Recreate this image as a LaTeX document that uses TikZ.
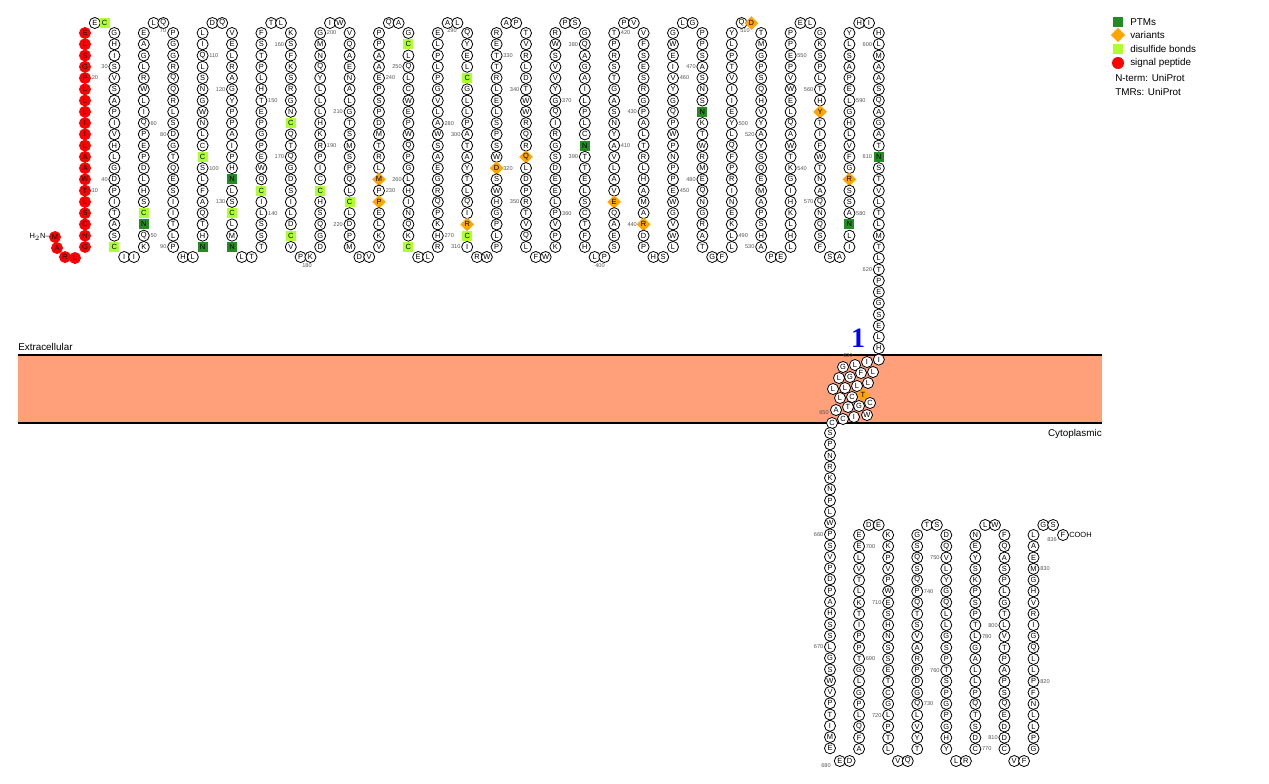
\documentclass[tikz,border=0pt]{standalone}
\usepackage{fontspec}
\setmainfont{Liberation Sans}
\usetikzlibrary{shapes.geometric}
\definecolor{ptm}{HTML}{228B22}
\definecolor{dsb}{HTML}{ADFF2F}
\definecolor{var}{HTML}{FFA500}
\definecolor{mem}{HTML}{FFA07A}
\definecolor{numg}{HTML}{555555}
\tikzset{
 res/.style={circle,draw,line width=0.6pt,inner sep=0pt,minimum size=8.3pt,fill=white,font=\fontsize{5.6}{5.6}\selectfont},
 t-g/.style={rectangle,fill=dsb,draw=none,minimum size=7.6pt},
 t-d/.style={rectangle,fill=ptm,draw=none,minimum size=7.6pt},
 t-o/.style={diamond,fill=var,draw=none,minimum size=10.5pt},
 t-r/.style={fill=red,draw=red},
 numl/.style={font=\fontsize{4.2}{4.2}\selectfont,text=numg,inner sep=0pt},
 legt/.style={font=\fontsize{7.4}{7.4}\selectfont,anchor=west,inner sep=0pt}
}
\newcommand\ucol[2]{\foreach \a/\b [count=\k from 0] in {#2}{\node[res,t-\b/.try] (u#1-\k) at ({85+29.4*#1},{33+11.26*\k}) {\a};}}
\newcommand\uloop[4]{\foreach \a/\b [count=\k] in {#4}{\node[res,t-\b/.try] (#1-\k) at ({#2+9.8*\k},#3) {\a};}}
\newcommand\ulab[4]{\ifx R#4\node[numl,anchor=west] at ({85+29.4*#1+6.5},{33+11.26*#2}) {#3};\else\node[numl,anchor=east] at ({85+29.4*#1-6.5},{33+11.26*#2}) {#3};\fi}
\newcommand\lcol[3]{\foreach \a/\b [count=\k from 0] in {#3}{\node[res,t-\b/.try] (l#1-\k) at ({830+29.07*#1},{#2+11.26*\k}) {\a};}}
\newcommand\llab[5]{\ifx R#5\node[numl,anchor=west] at ({830+29.07*#1+6.5},{#2+11.26*#3}) {#4};\else\node[numl,anchor=east] at ({830+29.07*#1-6.5},{#2+11.26*#3}) {#4};\fi}
\begin{document}
\begin{tikzpicture}[x=0.75pt,y=-0.75pt]
\useasboundingbox (0,0) rectangle (1269,783);
% membrane
\fill[mem] (18,355) rectangle (1102,423);
\draw[line width=1.5pt] (18,355) -- (1102,355);
\draw[line width=1.5pt] (18,423) -- (1102,423);
\node[anchor=south west,inner sep=0pt,font=\fontsize{7.4}{7.4}\selectfont] (ext) at (18,351) {Extracellular};
\node[anchor=north east,inner sep=0pt,font=\fontsize{7.4}{7.4}\selectfont] (cyt) at (1102,429) {Cytoplasmic};
\node[font=\fontspec{Liberation Serif}\bfseries\fontsize{21}{21}\selectfont,text=blue,inner sep=0pt] (one) at (858,338) {1};
% N-terminus
\node[res,t-r] (m1) at (55,237) {M};
\node[res,t-r] (m2) at (57,248) {A};
\node[res,t-r] (m3) at (65,257) {R};
\node[res,t-r] (m4) at (75,258) {L};
\node[anchor=east,inner sep=0pt,font=\fontsize{5.6}{5.6}\selectfont] (nterm) at (50,237) {H$_2$N--};
% upper columns
\ucol{0}{E/r,L/r,S/r,G/r,P/r,L/r,L/r,L/r,I/r,I/r,L/r,A/r,A/r,W/r,T/r,L/r,S/r,C/r,N/r,G/r}
\ucol{1}{G,H,I,S,V,S,A,P,I,V,H,L,G,D,P,I,T,A,S,C/g}
\ucol{2}{E,A,G,L,R,W,L,I,Q,P,E,P,D,L,H,S,C/g,N/d,Q,K}
\ucol{3}{P,G,G,R,Q,Q,R,L,S,D,G,T,Q,E,S,I,I,T,L,P}
\ucol{4}{L,I,Q,L,S,N,G,W,N,L,C,C/g,S,L,F,A,Q,T,H,N/d}
\ucol{5}{V,E,L,R,A,G,Y,P,P,A,I,P,H,N/d,L,S,C/g,L,M,N/d}
\ucol{6}{F,S,T,P,L,H,T,E,P,G,P,E,W,Q,C/g,I,L,S,S,T}
\ucol{7}{K,S,F,K,S,R,G,N,C/g,Q,T,Q,G,D,S,I,L,D,C/g,V}
\ucol{8}{G,M,N,Q,Y,L,L,L,H,K,R,P,I,C,C/g,H,S,Q,G,D}
\ucol{9}{V,Q,A,E,N,A,L,G,T,S,M,S,P,Q,L,C/g,L,D,P,M}
\ucol{10}{P,P,A,A,E,P,S,P,D,M,T,R,L,M/o,P,P/o,E,L,K,V}
\ucol{11}{G,C/g,L,Q,L,C,W,E,P,W,Q,P,G,L,H,I,N,Q,K,C/g}
\ucol{12}{E,L,P,L,P,G,V,L,A,W,S,A,E,G,R,Q,P,K,H,R}
\ucol{13}{Q,Y,E,L,C/g,G,L,L,P,A,T,A,Y,T,L,Q,I,R/o,C/g,I}
\ucol{14}{R,E,T,T,R,L,E,L,S,P,S,W,D/o,S,W,H,G,P,L,P}
\ucol{15}{T,V,R,L,D,T,W,W,R,Q,R,Q/o,L,D,P,R,T,V,Q,L}
\ucol{16}{R,W,S,V,V,Y,G,Q,I,R,G,S,D,E,E,L,P,V,P,K}
\ucol{17}{G,Q,A,G,A,I,L,P,L,C,N/d,T,T,E,L,S,C,T,F,H}
\ucol{18}{T,P,R,S,T,G,A,S,N,Y,A,V,L,A,V,E/o,Q,A,E,S}
\ucol{19}{V,F,S,E,S,R,G,P,A,L,T,R,L,H,A,M,A,R/o,D,P}
\ucol{20}{G,W,E,I,V,Y,G,Q,P,W,P,N,P,P,E,W,G,V,W,L}
\ucol{21}{P,P,S,A,S,N,S,N/d,K,T,W,R,M,E,Q,N,G,R,A,T}
\ucol{22}{Y,L,P,T,V,I,I,E,Y,L,Q,F,P,R,I,N,E,K,L,L}
\ucol{23}{T,M,G,P,S,Q,H,V,Y,A,Y,S,Q,E,M,A,P,S,H,A}
\ucol{24}{P,P,E,P,V,W,E,L,Q,A,W,T,K,G,I,H,K,L,H,L}
\ucol{25}{G,K,S,P,L,T,H,Y/o,T,I,F,W,T,N,A,Q,N,Q,S,F}
\ucol{26}{Y,L,S,A,P,E,L,G,H,L,V,F,G,R/o,S,S,A,N/d,L,I}
\ucol{27}{H,L,M,A,A,S,Q,A,G,A,T,N/d,S,T,V,L,T,L,M,T,L,T,P,E,G,S,E,L,H,I}
% upper loops
\uloop{t0}{85}{23}{E,C/g}
\uloop{b1}{114.4}{257}{I,I}
\uloop{t2}{143.8}{23}{L,Q}
\uloop{b3}{173.2}{257}{H,L}
\uloop{t4}{202.6}{23}{D,Q}
\uloop{b5}{232}{257}{L,T}
\uloop{t6}{261.4}{23}{T,L}
\uloop{b7}{290.8}{257}{P,K}
\uloop{t8}{320.2}{23}{I,W}
\uloop{b9}{349.6}{257}{D,V}
\uloop{t10}{379}{23}{Q,A}
\uloop{b11}{408.4}{257}{E,L}
\uloop{t12}{437.8}{23}{A,L}
\uloop{b13}{467.2}{257}{R,W}
\uloop{t14}{496.6}{23}{A,P}
\uloop{b15}{526}{257}{F,W}
\uloop{t16}{555.4}{23}{P,S}
\uloop{b17}{584.8}{257}{L,P}
\uloop{t18}{614.2}{23}{P,V}
\uloop{b19}{643.6}{257}{H,S}
\uloop{t20}{673}{23}{L,G}
\uloop{b21}{702.4}{257}{G,F}
\uloop{t22}{731.8}{23}{Q,D/o}
\uloop{b23}{761.2}{257}{P,E}
\uloop{t24}{790.6}{23}{E,L}
\uloop{b25}{820}{257}{S,A}
\uloop{t26}{849.4}{23}{H,I}
% upper labels
\ulab{0}{4}{20}{R}\ulab{0}{14}{10}{R}\ulab{1}{3}{30}{L}\ulab{1}{13}{40}{L}
\ulab{2}{8}{60}{R}\ulab{2}{18}{50}{R}\ulab{3}{9}{80}{L}\ulab{3}{19}{90}{L}
\ulab{4}{2}{110}{R}\ulab{4}{12}{100}{R}\ulab{5}{5}{120}{L}\ulab{5}{15}{130}{L}
\ulab{6}{6}{150}{R}\ulab{6}{16}{140}{R}\ulab{7}{1}{160}{L}\ulab{7}{11}{170}{L}
\ulab{8}{0}{200}{R}\ulab{8}{10}{190}{R}\ulab{9}{7}{210}{L}\ulab{9}{17}{220}{L}
\ulab{10}{4}{240}{R}\ulab{10}{14}{230}{R}\ulab{11}{3}{250}{L}\ulab{11}{13}{260}{L}
\ulab{12}{8}{280}{R}\ulab{12}{18}{270}{R}\ulab{13}{9}{300}{L}\ulab{13}{19}{310}{L}
\ulab{14}{2}{330}{R}\ulab{14}{12}{320}{R}\ulab{15}{5}{340}{L}\ulab{15}{15}{350}{L}
\ulab{16}{6}{370}{R}\ulab{16}{16}{360}{R}\ulab{17}{1}{380}{L}\ulab{17}{11}{390}{L}
\ulab{18}{0}{420}{R}\ulab{18}{10}{410}{R}\ulab{19}{7}{430}{L}\ulab{19}{17}{440}{L}
\ulab{20}{4}{460}{R}\ulab{20}{14}{450}{R}\ulab{21}{3}{470}{L}\ulab{21}{13}{480}{L}
\ulab{22}{8}{500}{R}\ulab{22}{18}{490}{R}\ulab{23}{9}{520}{L}\ulab{23}{19}{530}{L}
\ulab{24}{2}{550}{R}\ulab{24}{12}{540}{R}\ulab{25}{5}{560}{L}\ulab{25}{15}{570}{L}
\ulab{26}{6}{590}{R}\ulab{26}{16}{580}{R}\ulab{27}{1}{600}{L}\ulab{27}{11}{610}{L}
\ulab{27}{21}{620}{L}
\node[numl] at (163,31) {70};
\node[numl] at (307,266) {180};
\node[numl] at (452,31) {290};
\node[numl] at (600,266) {400};
\node[numl] at (745,31) {510};
% transmembrane helix
\foreach \x/\y/\l/\t [count=\k] in {867/362/I/n,855/365/L/n,843/367/G/n,873/372/L/n,861/373/F/n,850/377/G/n,839/378/L/n,868/383/L/n,857/386/L/n,845/388/L/n,833/389/L/n,863/395/T/o,852/397/C/n,840/398/L/n,870/403/C/n,859/406/G/n,848/407/T/n,836/410/A/n,867/415/W/n,854/417/I/n,843/419/C/n,832/423/C/n}
 {\node[res,t-\t/.try] (tm\k) at (\x,\y) {\l};}
\node[numl] at (848,356) {630};
\node[numl] at (824,413) {650};
% lower columns
\lcol{0}{433}{S,P,N,R,K,N,P,L,W,P,S,V,P,D,P,A,H,S,S,L,G,S,W,V,P,T,I,M,E}
\lcol{1}{535}{E,E,L,V,T,L,K,T,I,P,P,T,G,L,G,P,L,Q,F,A}
\lcol{2}{535}{K,K,P,V,P,W,E,S,H,N,S,S,E,T,C,G,L,P,T,L}
\lcol{3}{535}{G,S,Q,S,Q,P,Q,T,S,V,A,R,P,D,G,Q,L,V,Y,T}
\lcol{4}{535}{D,Q,V,L,Y,G,Q,L,L,G,S,P,T,S,P,G,P,G,H,Y}
\lcol{5}{535}{N,E,Y,S,K,P,S,P,T,L,G,A,L,L,P,Q,T,S,D,C}
\lcol{6}{535}{F,Q,A,S,P,L,G,T,L,V,T,P,A,P,S,Q,E,D,D,C}
\lcol{7}{535}{L,A,E,M,G,H,V,R,I,G,Q,L,L,P,F,N,L,L,P,G}
\uloop{lb0}{830}{761}{E,D}
\uloop{lt1}{859.07}{525}{D,E}
\uloop{lb2}{888.14}{761}{V,Q}
\uloop{lt3}{917.21}{525}{T,S}
\uloop{lb4}{946.28}{761}{L,R}
\uloop{lt5}{975.35}{525}{L,W}
\uloop{lb6}{1004.42}{761}{V,F}
\uloop{lt7}{1033.49}{525}{G,S}
\node[res] (f836) at (1063,535) {F};
\node[anchor=west,inner sep=0pt,font=\fontsize{5.6}{5.6}\selectfont] (cooh) at (1069,535) {COOH};
\node[numl] at (1052,540) {836};
\node[numl] at (826,766) {680};
\llab{0}{433}{9}{660}{L}\llab{0}{433}{19}{670}{L}
\llab{1}{535}{1}{700}{R}\llab{1}{535}{11}{690}{R}
\llab{2}{535}{6}{710}{L}\llab{2}{535}{16}{720}{L}
\llab{3}{535}{5}{740}{R}\llab{3}{535}{15}{730}{R}
\llab{4}{535}{2}{750}{L}\llab{4}{535}{12}{760}{L}
\llab{5}{535}{9}{780}{R}\llab{5}{535}{19}{770}{R}
\llab{6}{535}{8}{800}{L}\llab{6}{535}{18}{810}{L}
\llab{7}{535}{3}{830}{R}\llab{7}{535}{13}{820}{R}
% legend
\node[rectangle,fill=ptm,minimum size=8pt,inner sep=0pt] (lg1) at (1118,22) {};
\node[legt] (lt1) at (1130,22) {PTMs};
\node[diamond,fill=var,minimum size=11pt,inner sep=0pt] (lg2) at (1118,35) {};
\node[legt] (lt2) at (1130,35) {variants};
\node[rectangle,fill=dsb,minimum size=8pt,inner sep=0pt] (lg3) at (1118,49) {};
\node[legt] (lt3) at (1130,49) {disulfide bonds};
\node[circle,fill=red,minimum size=9pt,inner sep=0pt] (lg4) at (1118,63) {};
\node[legt] (lt4) at (1130,63) {signal peptide};
\node[legt] (lt5) at (1115,78) {N-term: UniProt};
\node[legt] (lt6) at (1115,92) {TMRs: UniProt};
\end{tikzpicture}
\end{document}
